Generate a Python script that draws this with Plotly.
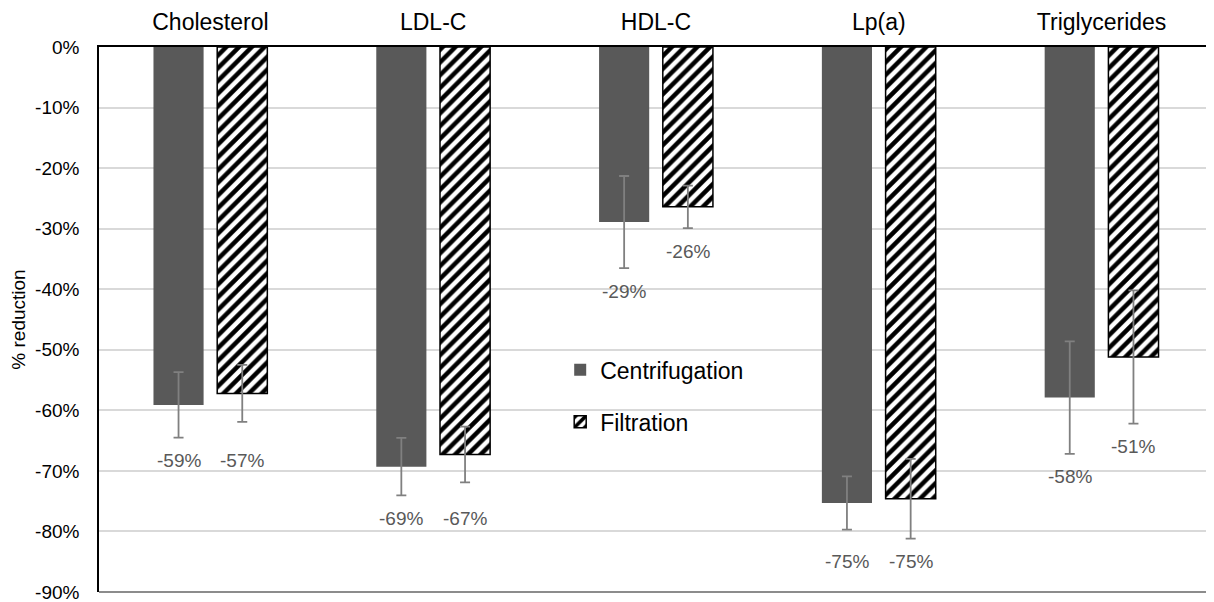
import plotly.graph_objects as go
import numpy as np

categories = ["Cholesterol", "LDL-C", "HDL-C", "Lp(a)", "Triglycerides"]
centrifugation = [-59.1, -69.3, -28.9, -75.3, -57.9]
centrifugation_err = [5.4, 4.75, 7.6, 4.4, 9.3]
filtration = [-57.2, -67.3, -26.4, -74.6, -51.2]
filtration_err = [4.7, 4.6, 3.5, 6.6, 11.0]
y_tick_vals = [0, -10, -20, -30, -40, -50, -60, -70, -80, -90]
y_tick_text = ["0%", "-10%", "-20%", "-30%", "-40%", "-50%", "-60%", "-70%", "-80%", "-90%"]

FONT = "Liberation Sans, Arial, sans-serif"
xpos = np.arange(len(categories))
half_sep = 0.143
bar_w = 0.225

fig = go.Figure()
fig.add_trace(go.Bar(
    name="Centrifugation", x=xpos, y=centrifugation, width=bar_w,
    offset=-half_sep - bar_w / 2, legendgroup="a",
    marker=dict(color="#595959", line=dict(width=0)),
    error_y=dict(type="data", array=centrifugation_err, color="#808080", thickness=1.8, width=5),
))
fig.add_trace(go.Bar(
    name="Filtration", x=xpos, y=filtration, width=bar_w,
    offset=half_sep - bar_w / 2, legendgroup="b",
    marker=dict(color="white", line=dict(color="black", width=1.5),
                pattern=dict(shape="/", size=9, solidity=0.5, fgcolor="black",
                             bgcolor="white", fgopacity=1, fillmode="replace")),
    error_y=dict(type="data", array=filtration_err, color="#808080", thickness=1.8, width=5),
))

# data labels below error bars
for i in range(len(categories)):
    lo_c = centrifugation[i] - centrifugation_err[i]
    lo_f = filtration[i] - filtration_err[i]
    if abs(lo_c - lo_f) < 3:
        lo_c = lo_f = min(lo_c, lo_f)
    for xv, yv, val in [(i - half_sep, lo_c, centrifugation[i]), (i + half_sep, lo_f, filtration[i])]:
        fig.add_annotation(x=xv, y=yv, xref="x", yref="y", text=f"{round(val):d}%",
                           showarrow=False, yshift=-23, yanchor="middle",
                           font=dict(family=FONT, size=19, color="#595959"))

fig.add_shape(type="line", xref="x domain", yref="y domain", x0=0, x1=1, y0=0, y1=0,
              line=dict(color="#8c8c8c", width=2))

fig.update_layout(
    width=1206, height=594,
    margin=dict(l=91, r=1, t=39, b=10),
    paper_bgcolor="white", plot_bgcolor="white",
    barmode="overlay",
    font=dict(family=FONT, color="black"),
    legend=dict(x=0.414, y=0.447, xanchor="left", yanchor="top", tracegroupgap=19,
                font=dict(size=23, family=FONT), bgcolor="rgba(0,0,0,0)"),
    xaxis=dict(side="top", range=[-0.5, len(categories) - 0.5], tickvals=list(xpos), ticktext=categories,
               showgrid=False, showline=True, linecolor="black", linewidth=1.5, automargin=False,
               ticks="", ticklabelstandoff=6, tickfont=dict(size=23, color="black"), zeroline=False),
    yaxis=dict(range=[-90, 0], tickvals=y_tick_vals, ticktext=y_tick_text, automargin=False,
               ticklabeloverflow="allow",
               showgrid=True, gridcolor="#d9d9d9", gridwidth=1.5,
               showline=True, linecolor="black", linewidth=1.5, zeroline=False,
               ticks="", ticklabelstandoff=14, tickfont=dict(size=19, color="black"),
               title=dict(text="% reduction", font=dict(size=19), standoff=14)),
)

fig.write_html("out.html")
